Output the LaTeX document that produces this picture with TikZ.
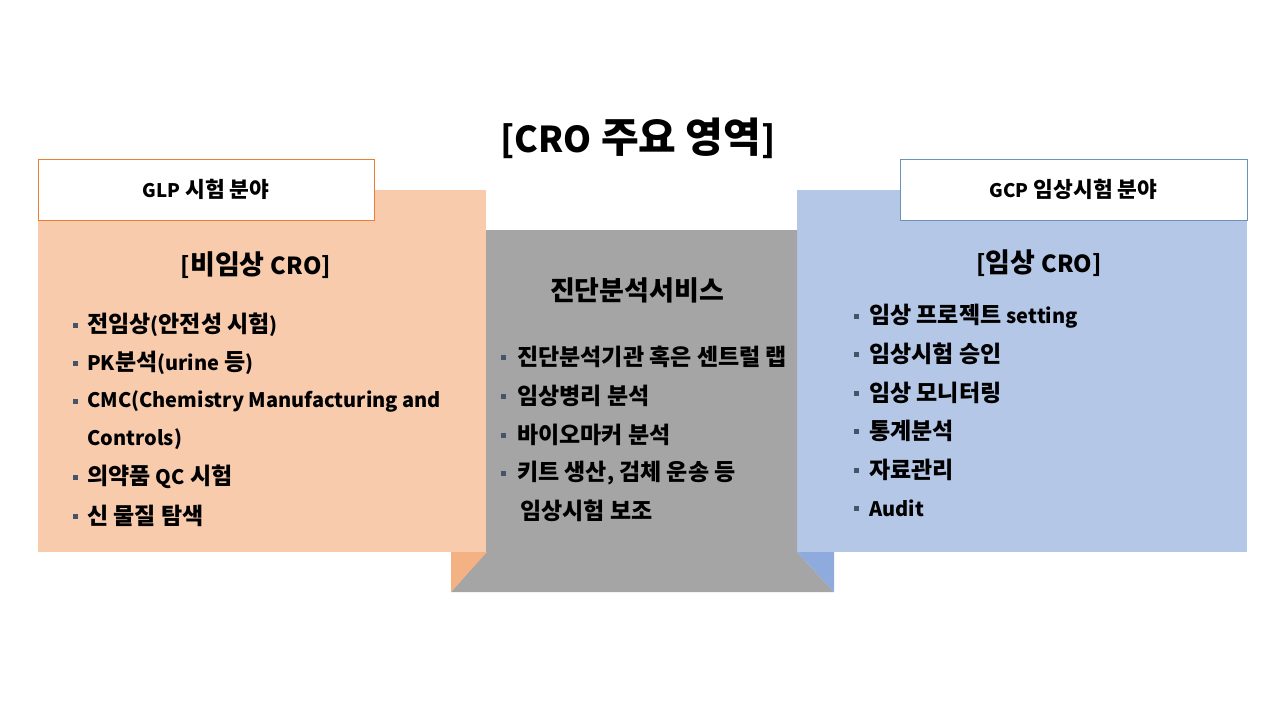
\documentclass[tikz,border=0pt]{standalone}
\usepackage{fontspec}
\setmainfont{Noto Sans CJK KR}
\newfontfamily\latf{Noto Sans CJK KR}[Scale=0.87]
\newcommand\lt[1]{{\latf #1}}
\definecolor{peach}{HTML}{F8CBAD}
\definecolor{peachdark}{HTML}{F4B183}
\definecolor{grayc}{HTML}{A5A5A5}
\definecolor{bluec}{HTML}{B4C7E7}
\definecolor{bluedark}{HTML}{8FAADC}
\definecolor{orangeb}{HTML}{ED7D31}
\definecolor{blueb}{HTML}{6B93B8}
\definecolor{bulletc}{HTML}{44546A}
\begin{document}
\begin{tikzpicture}[x=1pt,y=-1pt,
  item/.style={anchor=west,inner sep=0pt,font=\fontsize{23}{26}\selectfont\bfseries},
  subtitle/.style={inner sep=0pt,font=\fontsize{27}{30}\selectfont\bfseries},
  hdrtext/.style={inner sep=0pt,font=\fontsize{21.5}{24}\selectfont\bfseries},
  bul/.style={fill=bulletc,minimum size=5pt,inner sep=0pt,draw=none}]
\useasboundingbox (0,0) rectangle (1280,720);
\fill[white] (0,0) rectangle (1280,720);
% panels
\fill[peach] (38,190) rectangle (486,552);
\fill[bluec] (797,190) rectangle (1247,552);
\fill[grayc] (486,230) -- (797,230) -- (797,552) -- (834,592) -- (451,592) -- (486,552) -- cycle;
\fill[peachdark] (451,552) -- (487,552) -- (451,592) -- cycle;
\fill[bluedark] (797,552) -- (834,552) -- (834,592) -- cycle;
% headers
\node[draw=orangeb,fill=white,line width=0.8pt,minimum width=336pt,minimum height=61pt,inner sep=0pt] (glp) at (206,189.5) {};
\node[hdrtext] (glpt) at (glp.center) {\lt{GLP} 시험 분야};
\node[draw=blueb,fill=white,line width=0.8pt,minimum width=347pt,minimum height=61pt,inner sep=0pt] (gcp) at (1073.5,189.5) {};
\node[hdrtext] (gcpt) at (gcp.center) {\lt{GCP} 임상시험 분야};
% title
\node[inner sep=0pt,font=\fontsize{41}{46}\selectfont\bfseries] (title) at (638,138) {\lt{[CRO} 주요 영역\lt{]}};
% left
\node[subtitle] (lsub) at (256,265) {\lt{[}비임상 \lt{CRO]}};
\node[bul] (lb1) at (75,325) {};
\node[item] (l1) at (87,325) {전임상\lt{(}안전성 시험\lt{)}};
\node[bul] (lb2) at (75,363) {};
\node[item] (l2) at (87,363) {\lt{PK}분석\lt{(urine} 등\lt{)}};
\node[bul] (lb3) at (75,401) {};
\node[item] (l3) at (87,401) {\lt{CMC(Chemistry Manufacturing and}};
\node[item] (l3b) at (87,439) {\lt{Controls)}};
\node[bul] (lb4) at (75,477) {};
\node[item] (l4) at (87,477) {의약품 \lt{QC} 시험};
\node[bul] (lb5) at (75,516) {};
\node[item] (l5) at (87,516) {신 물질 탐색};
% center
\node[subtitle] (csub) at (637,290) {진단분석서비스};
\node[bul] (cb1) at (503,357) {};
\node[item] (c1) at (517,357) {진단분석기관 혹은 센트럴 랩};
\node[bul] (cb2) at (503,396) {};
\node[item] (c2) at (517,396) {임상병리 분석};
\node[bul] (cb3) at (503,435) {};
\node[item] (c3) at (517,435) {바이오마커 분석};
\node[bul] (cb4) at (503,473) {};
\node[item] (c4) at (517,473) {키트 생산\lt{,} 검체 운송 등};
\node[item] (c4b) at (520,511) {임상시험 보조};
% right
\node[subtitle] (rsub) at (1039,263) {\lt{[}임상 \lt{CRO]}};
\node[bul] (rb1) at (856,316) {};
\node[item] (r1) at (869,316) {임상 프로젝트 \lt{setting}};
\node[bul] (rb2) at (856,354) {};
\node[item] (r2) at (869,354) {임상시험 승인};
\node[bul] (rb3) at (856,393) {};
\node[item] (r3) at (869,393) {임상 모니터링};
\node[bul] (rb4) at (856,431) {};
\node[item] (r4) at (869,431) {통계분석};
\node[bul] (rb5) at (856,470) {};
\node[item] (r5) at (869,470) {자료관리};
\node[bul] (rb6) at (856,508) {};
\node[item] (r6) at (869,508) {\lt{Audit}};
\end{tikzpicture}
\end{document}
